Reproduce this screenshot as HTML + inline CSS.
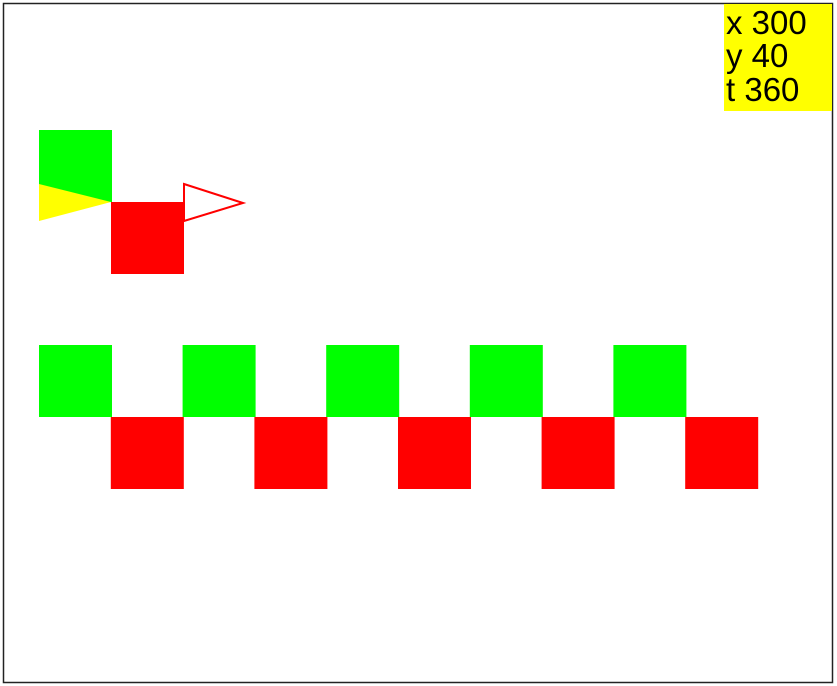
<!DOCTYPE html>
<html><head><meta charset="utf-8"><style>
html,body{margin:0;padding:0;background:#fff;}
svg{display:block;}
text{font-family:"Liberation Sans",sans-serif;font-size:33px;fill:#000;}
</style></head><body>
<svg width="837" height="686" viewBox="0 0 837 686" id="s">
<rect x="3.5" y="3.5" width="829" height="679" fill="#fff" stroke="#222" stroke-width="1.5"/>
<rect x="724" y="4" width="108" height="107" fill="#ffff00"/>
<text x="726" y="34">x 300</text>
<text x="726" y="67">y 40</text>
<text x="726" y="101">t 360</text>
<rect x="39" y="130" width="73" height="72" fill="#00ff00"/>
<polygon points="39,184 111,202 39,221" fill="#ffff00"/>
<rect x="111" y="202" width="73" height="72" fill="#ff0000"/>
<polygon points="184,184 243,203 184,221" fill="none" stroke="#ff0000" stroke-width="2"/>
<g id="row"></g>
</svg>
<script>
const greenCols=[0,2,4,6,8];
const redCols=[1,3,5,7,9];
const x0=39,step=71.8,size=73;
const row=document.getElementById('row');
function col(c){return x0+c*step;}
function add(c,y,fill,name){
  const r=document.createElementNS('http://www.w3.org/2000/svg','rect');
  r.setAttribute('x',col(c));r.setAttribute('y',y);
  r.setAttribute('width',size);r.setAttribute('height',72);
  r.setAttribute('fill',fill);
  
  
  row.appendChild(r);
}
greenCols.forEach(c=>add(c,345,'#00ff00','green-square'));
redCols.forEach(c=>add(c,417,'#ff0000','red-square'));
</script>
</body></html>
